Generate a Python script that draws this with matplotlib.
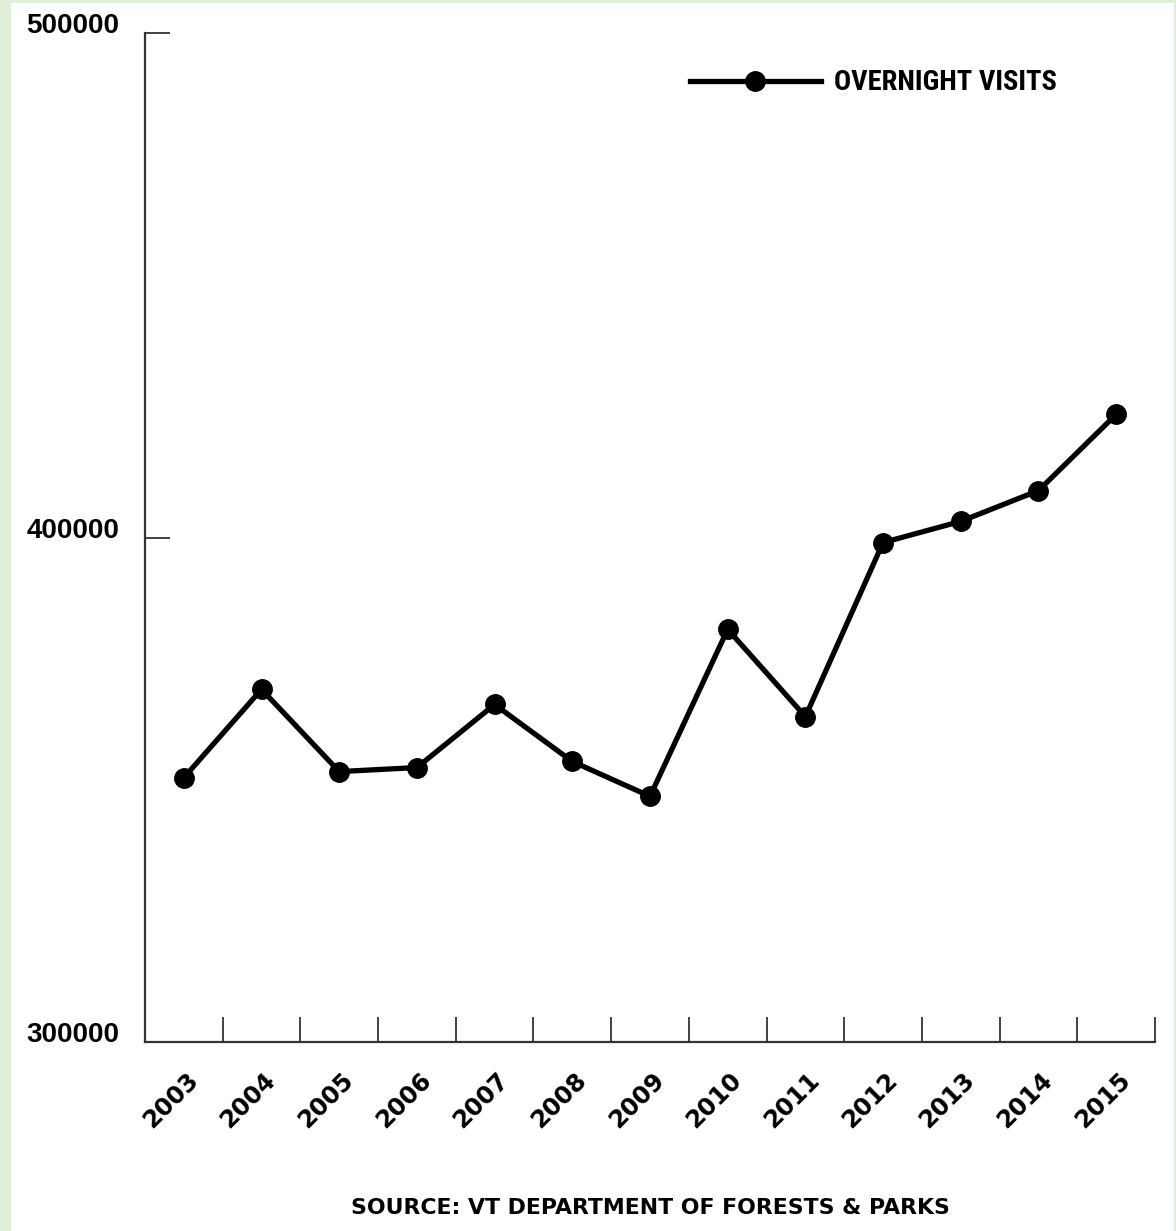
import matplotlib
matplotlib.use('Agg')
import matplotlib.pyplot as plt
import matplotlib.transforms as mtransforms
from matplotlib import font_manager
from matplotlib.patches import Rectangle
import numpy as np

# data
years = ['2003', '2004', '2005', '2006', '2007', '2008', '2009',
         '2010', '2011', '2012', '2013', '2014', '2015']
visits = [352400, 369900, 353600, 354400, 366900, 355600, 348700,
          381800, 364500, 399000, 403200, 409300, 424400]
y_ticks = [300000, 400000, 500000]


def pick_font(names):
    for name in names:
        try:
            font_manager.findfont(name, fallback_to_default=False)
            return name
        except Exception:
            continue
    return 'DejaVu Sans'


narrow = pick_font(['Liberation Sans Narrow', 'DejaVu Sans Condensed', 'Roboto Condensed',
                    'Open Sans Condensed', 'Liberation Sans'])

fig = plt.figure(figsize=(11.76, 12.31), dpi=100)
fig.patch.set_facecolor('white')

# light green frame of the page
green = '#e2efd8'
fig.patches.append(Rectangle((0, 0), 11 / 1176, 1, transform=fig.transFigure,
                             facecolor=green, edgecolor='none'))
fig.patches.append(Rectangle((0, 1 - 3 / 1231), 1, 3 / 1231, transform=fig.transFigure,
                             facecolor=green, edgecolor='none'))
fig.patches.append(Rectangle((1 - 2 / 1176, 0), 2 / 1176, 1, transform=fig.transFigure,
                             facecolor=green, edgecolor='none'))

ax = fig.add_axes([145 / 1176, 1 - 1042 / 1231, 1010 / 1176, 1009 / 1231])
ax.set_facecolor('white')

x = np.arange(len(years)) + 0.5
ax.plot(x, visits, color='black', linewidth=3.8, marker='o', markersize=14,
        markerfacecolor='black', markeredgecolor='black', label='OVERNIGHT VISITS',
        solid_joinstyle='round', clip_on=False)

ax.set_xlim(0, len(years))
ax.set_ylim(300000, 500000)

for side in ['top', 'right']:
    ax.spines[side].set_visible(False)
for side in ['left', 'bottom']:
    ax.spines[side].set_color('#333333')
    ax.spines[side].set_linewidth(1.6)

# tick marks between categories, pointing inward
ax.set_xticks(np.arange(1, len(years) + 1))
ax.tick_params(axis='x', which='major', direction='in', length=18, width=1.3,
               color='#333333', labelbottom=False)
ax.set_xticks(x, minor=True)
ax.set_xticklabels(years, minor=True)
ax.tick_params(axis='x', which='minor', length=0, pad=19)
offset = mtransforms.ScaledTranslation(0.02, 0, fig.dpi_scale_trans)
for lbl in ax.get_xticklabels(minor=True):
    lbl.set_rotation(45)
    lbl.set_ha('right')
    lbl.set_va('top')
    lbl.set_rotation_mode('anchor')
    lbl.set_fontsize(17.5)
    lbl.set_fontweight('bold')
    lbl.set_family('DejaVu Sans')
    lbl.set_transform(lbl.get_transform() + offset)

ax.set_yticks(y_ticks)
ax.set_yticklabels([str(v) for v in y_ticks])
ax.tick_params(axis='y', direction='in', length=18, width=1.3, color='#333333', pad=18.5)
for lbl in ax.get_yticklabels():
    lbl.set_va('baseline')
    lbl.set_fontsize(20)
    lbl.set_fontweight('bold')
    lbl.set_family(['Liberation Sans', 'DejaVu Sans'])

leg = ax.legend(loc='center left', bbox_to_anchor=(690 / 1176, 1 - 83 / 1231),
                bbox_transform=fig.transFigure, frameon=False, handlelength=4.6,
                handletextpad=0.45, borderaxespad=0, borderpad=0,
                prop={'family': narrow, 'weight': 'bold', 'size': 20.5})

# fit the legend label to the width it has in the picture
renderer = fig.canvas.get_renderer()
txt = leg.get_texts()[0]
w = txt.get_window_extent(renderer).width
if w > 230:
    txt.set_fontsize(20.5 * 219 / w)

fig.text(650 / 1176, 1 - 1208 / 1231, 'SOURCE: VT DEPARTMENT OF FORESTS & PARKS',
         ha='center', va='center', fontsize=15.8, fontweight='bold',
         family=['DejaVu Sans'])

fig.savefig('out.png', dpi=100, facecolor=fig.get_facecolor())
